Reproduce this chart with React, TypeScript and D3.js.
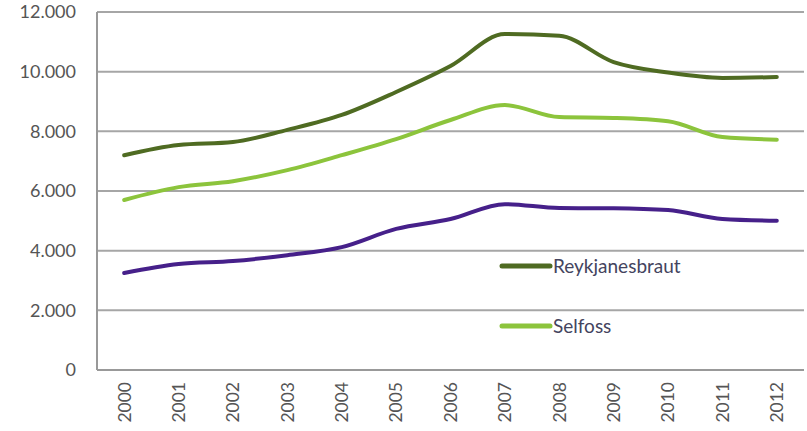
import React from "react";
import * as d3 from "d3";

const years = ["2000","2001","2002","2003","2004","2005","2006","2007","2008","2009","2010","2011","2012"];
const reykjanesbraut = [7200,7540,7640,8050,8550,9320,10190,11260,11200,10320,9970,9790,9820];
const selfoss = [5700,6130,6330,6700,7200,7740,8380,8880,8480,8450,8340,7810,7720];
const third = [3250,3550,3650,3850,4120,4730,5060,5560,5430,5420,5360,5060,5000];
const yTicks = [0,2000,4000,6000,8000,10000,12000];
const tickLabels = ["0","2.000","4.000","6.000","8.000","10.000","12.000"];

const W = 807, H = 431;
const left = 97, right = 804, top = 12, bottom = 370;

export default function App() {
  const x = d3.scaleBand<string>().domain(years).range([left, right]);
  const y = d3.scaleLinear().domain([0, 12000]).range([bottom, top]);
  const line = d3.line<number>()
    .x((_, i) => (x(years[i]) as number) + x.bandwidth() / 2)
    .y(d => y(d))
    .curve(d3.curveMonotoneX);
  const series = [
    { name: "Reykjanesbraut", data: reykjanesbraut, color: "#4f6b22" },
    { name: "Selfoss", data: selfoss, color: "#8cc43c" },
    { name: "", data: third, color: "#46208a" },
  ];
  const font = "Lato, 'Open Sans', sans-serif";
  const textColor = "#555555";
  return (
    <svg width={W} height={H} style={{ position: "absolute", left: 0, top: 0, background: "#fff" }}>
      {yTicks.map((t, i) => (
        <g key={t}>
          {t > 0 && <line x1={left} x2={right} y1={y(t)} y2={y(t)} stroke="#a6a6a6" strokeWidth={2} />}
          <text x={76} y={y(t)} dy="0.36em" textAnchor="end" fontFamily={font} fontSize={18} fill={textColor}>{tickLabels[i]}</text>
        </g>
      ))}
      <line x1={left} x2={left} y1={top} y2={bottom} stroke="#999" strokeWidth={2} />
      <line x1={left} x2={right} y1={bottom} y2={bottom} stroke="#999" strokeWidth={2} />
      {years.map(yr => {
        const cx = (x(yr) as number) + x.bandwidth() / 2;
        return (
          <text key={yr} transform={`translate(${cx},382) rotate(-90)`} dy="0.36em" textAnchor="end" fontFamily={font} fontSize={17.5} fill={textColor}>{yr}</text>
        );
      })}
      {series.map(s => (
        <path key={s.color} d={line(s.data) || ""} fill="none" stroke={s.color} strokeWidth={4} strokeLinecap="round" strokeLinejoin="round" />
      ))}
      {series.slice(0, 2).map((s, i) => {
        const ly = i === 0 ? 266 : 326;
        return (
          <g key={s.name}>
            <line x1={502} x2={550} y1={ly} y2={ly} stroke={s.color} strokeWidth={5} strokeLinecap="round" />
            <text x={553} y={ly} dy="0.35em" fontFamily={font} fontSize={19} fill="#44445e">{s.name}</text>
          </g>
        );
      })}
    </svg>
  );
}
